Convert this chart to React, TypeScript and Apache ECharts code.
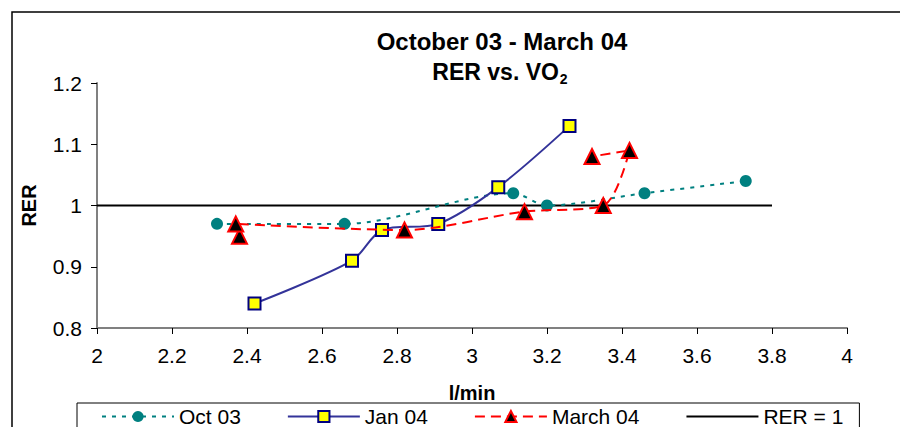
import React, { useEffect, useRef } from "react";
import * as echarts from "echarts";

const FONT = "'Liberation Sans', Arial, sans-serif";

const octX = [2.32, 2.66, 3.11, 3.2, 3.46, 3.73];
const octY = [0.97, 0.97, 1.02, 1.0, 1.02, 1.04];

const janX = [2.42, 2.68, 2.76, 2.91, 3.07, 3.26];
const janY = [0.84, 0.91, 0.96, 0.97, 1.03, 1.13];

const marX = [2.38, 2.37, 2.82, 3.14, 3.35, 3.42, 3.32];
const marY = [0.95, 0.97, 0.96, 0.99, 1.0, 1.09, 1.08];

const refX = [2, 3.8];
const refY = [1, 1];

const seriesNames = ["Oct 03", "Jan 04", "March 04", "RER = 1"];

const zip = (xs: number[], ys: number[]) => xs.map((x, i) => [x, ys[i]]);

export default function App() {
  const ref = useRef<HTMLDivElement>(null);
  useEffect(() => {
    if (!ref.current) return;
    const chart = echarts.init(ref.current, undefined, { renderer: "svg" });
    chart.setOption({
      animation: false,
      backgroundColor: "#fff",
      textStyle: { fontFamily: FONT },
      graphic: [
        {
          type: "rect",
          shape: { x: 12, y: 12, width: 1000, height: 1000 },
          style: { fill: "none", stroke: "#000", lineWidth: 1.5 },
          silent: true,
        },
        {
          type: "text",
          x: 502,
          y: 41,
          style: {
            text: "October 03 - March 04",
            font: `bold 24px ${FONT}`,
            fill: "#000",
            align: "center",
            verticalAlign: "middle",
          },
        },
        {
          type: "text",
          x: 500,
          y: 72,
          style: {
            text: "{m|RER vs. VO}{s|2}",
            fill: "#000",
            align: "center",
            verticalAlign: "middle",
            rich: {
              m: { fontFamily: FONT, fontWeight: "bold", fontSize: 23, fill: "#000", lineHeight: 28 },
              s: { fontFamily: FONT, fontWeight: "bold", fontSize: 14, fill: "#000", lineHeight: 28, verticalAlign: "bottom", padding: [0, 0, 0, 1] },
            },
          },
        },
      ],
      legend: {
        data: [
          { name: "Oct 03" },
          { name: "Jan 04" },
          { name: "March 04" },
          { name: "RER = 1", itemStyle: { opacity: 0 } },
        ],
        left: 77,
        top: 403,
        padding: [3, 16, 30, 24],
        itemWidth: 72,
        itemHeight: 14,
        itemGap: 46,
        borderColor: "#000",
        borderWidth: 1,
        textStyle: { fontSize: 21, fontFamily: FONT, color: "#000" },
      },
      grid: { left: 97, right: 53, top: 83, bottom: 99 },
      xAxis: {
        type: "value",
        min: 2,
        max: 4,
        interval: 0.2,
        name: "l/min",
        nameLocation: "middle",
        nameGap: 55,
        nameTextStyle: { fontSize: 20, fontWeight: "bold", color: "#000", fontFamily: FONT },
        axisLine: { show: true, onZero: false, lineStyle: { color: "#808080", width: 2 } },
        axisTick: { show: true, length: 6, lineStyle: { color: "#000", width: 1 } },
        axisLabel: { fontSize: 21, color: "#000", margin: 17, fontFamily: FONT },
        splitLine: { show: false },
      },
      yAxis: {
        type: "value",
        min: 0.8,
        max: 1.2,
        interval: 0.1,
        name: "RER",
        nameLocation: "middle",
        nameGap: 58,
        nameRotate: 90,
        nameTextStyle: { fontSize: 20, fontWeight: "bold", color: "#000", fontFamily: FONT },
        axisLine: { show: true, lineStyle: { color: "#808080", width: 2 } },
        axisTick: { show: true, length: 6, lineStyle: { color: "#000", width: 1 } },
        axisLabel: { fontSize: 21, color: "#000", margin: 15, fontFamily: FONT },
        splitLine: { show: false },
      },
      series: [
        {
          name: "RER = 1",
          type: "line",
          data: zip(refX, refY),
          symbol: "none",
          lineStyle: { color: "#000", width: 2 },
          itemStyle: { color: "#000" },
          z: 1,
        },
        {
          name: "Oct 03",
          type: "line",
          data: zip(octX, octY),
          smooth: 0.3,
          symbol: "circle",
          symbolSize: 12,
          lineStyle: { color: "#008080", width: 2, type: [4, 6] },
          itemStyle: { color: "#008080", borderColor: "#008080", borderWidth: 0 },
          z: 2,
        },
        {
          name: "Jan 04",
          type: "line",
          data: zip(janX, janY),
          smooth: 0.3,
          symbol: "rect",
          symbolSize: 12,
          lineStyle: { color: "#333399", width: 2 },
          itemStyle: { color: "#ffff00", borderColor: "#000080", borderWidth: 2 },
          z: 3,
        },
        {
          name: "March 04",
          type: "line",
          data: zip(marX, marY),
          smooth: 0.3,
          symbol: "triangle",
          symbolSize: 15,
          lineStyle: { color: "#ff0000", width: 2, type: [10, 6] },
          itemStyle: { color: "#000000", borderColor: "#ff0000", borderWidth: 2 },
          z: 4,
        },
      ],
    });
    return () => chart.dispose();
  }, []);
  return (
    <div
      ref={ref}
      style={{ position: "fixed", left: 0, top: 0, width: 900, height: 427, background: "#fff" }}
    />
  );
}
